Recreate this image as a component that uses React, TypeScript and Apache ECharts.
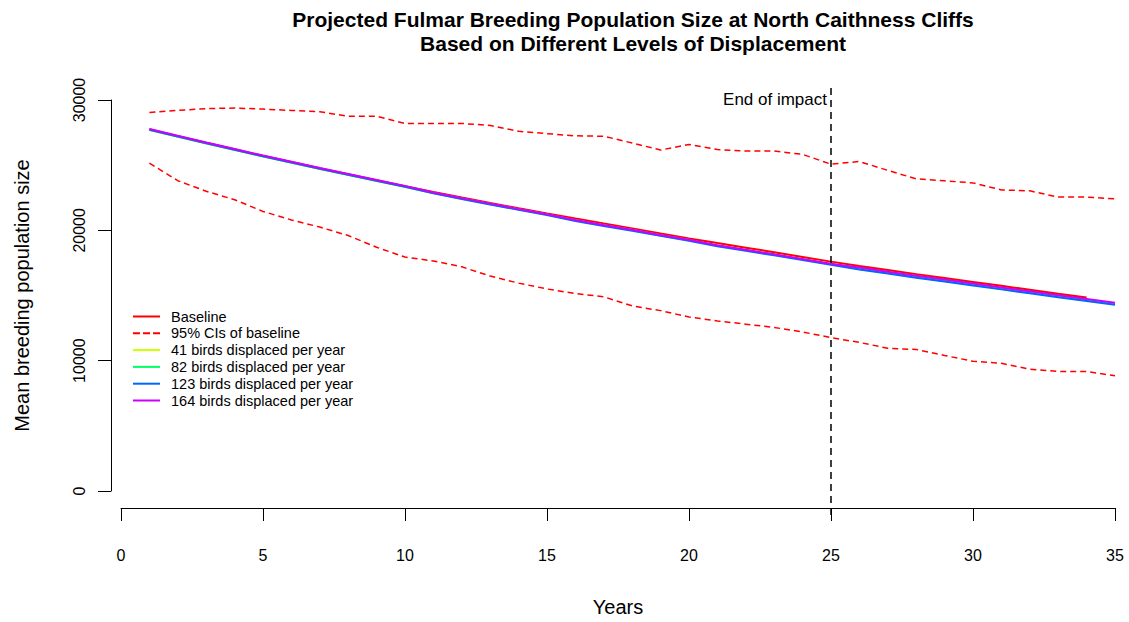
import React, { useEffect, useRef } from "react";
import * as echarts from "echarts";

const years = [1,2,3,4,5,6,7,8,9,10,11,12,13,14,15,16,17,18,19,20,21,22,23,24,25,26,27,28,29,30,31,32,33,34,35];
const baseline = [27750,27230,26720,26220,25720,25240,24760,24300,23840,23390,22950,22520,22100,21690,21290,20900,20520,20150,19760,19380,19020,18670,18320,17960,17600,17260,16950,16640,16340,16040,15740,15440,15140,14850];
const ciUpper = [29040,29200,29340,29380,29300,29200,29100,28750,28750,28200,28200,28200,28050,27600,27420,27250,27220,26700,26160,26590,26200,26080,26080,25830,25075,25280,24600,23950,23800,23640,23100,23030,22550,22550,22420];
const ciLower = [25150,23810,23000,22350,21450,20800,20250,19600,18700,17950,17650,17200,16490,15950,15500,15150,14900,14200,13840,13350,13050,12800,12550,12200,11770,11400,10950,10860,10400,9950,9800,9350,9170,9170,8840];
const disp41 = [27690,27170,26660,26160,25660,25180,24700,24240,23780,23330,22860,22430,22010,21600,21200,20770,20390,20020,19630,19250,18840,18490,18140,17780,17420,17060,16750,16440,16140,15840,15540,15240,14940,14650,14360];
const disp82 = [27720,27200,26690,26190,25690,25210,24730,24270,23810,23360,22870,22440,22020,21610,21210,20750,20370,20000,19610,19230,18820,18470,18120,17760,17400,17040,16730,16420,16120,15820,15520,15220,14920,14630,14340];
const disp123 = [27710,27190,26680,26180,25680,25200,24720,24260,23800,23350,22840,22410,21990,21580,21180,20720,20340,19970,19580,19200,18780,18430,18080,17720,17360,16990,16680,16370,16070,15770,15470,15170,14870,14580,14290];
const disp164 = [27770,27250,26740,26240,25740,25260,24780,24320,23860,23410,22900,22470,22050,21640,21240,20790,20410,20040,19650,19270,18860,18510,18160,17800,17440,17140,16830,16520,16220,15920,15620,15320,15020,14730,14440];
const endOfImpact = 25;
const xTicks = [0, 5, 10, 15, 20, 25, 30, 35];
const yTicks = [0, 10000, 20000, 30000];

const names = {
  base: "Baseline",
  ci: "95% CIs of baseline",
  d41: "41 birds displaced per year",
  d82: "82 birds displaced per year",
  d123: "123 birds displaced per year",
  d164: "164 birds displaced per year",
};

const pair = (vals: number[]) => vals.map((v, i) => [years[i], v]);
const FONT = "Liberation Sans, Arial, sans-serif";
const SOLID_ICON = "path://M0,0H27V2H0Z";
const DASH_ICON = "path://M0,0H7V2H0Z M10,0H17V2H10Z M20,0H27V2H20Z";

export default function App() {
  const ref = useRef<HTMLDivElement>(null);
  useEffect(() => {
    document.body.style.margin = "0";
    const chart = echarts.init(ref.current!, null, { renderer: "svg" });
    const mk = (name: string, data: number[], color: string, dashed = false) => ({
      type: "line",
      name,
      data: pair(data),
      xAxisIndex: 0,
      yAxisIndex: 0,
      symbol: "none",
      lineStyle: { color, width: dashed ? 1.5 : 2, type: dashed ? [6, 4] : "solid" },
      itemStyle: { color },
      z: 3,
    });
    chart.setOption({
      animation: false,
      backgroundColor: "#ffffff",
      textStyle: { fontFamily: FONT },
      title: {
        text: "Projected Fulmar Breeding Population Size at North Caithness Cliffs\nBased on Different Levels of Displacement",
        left: 628,
        top: 2,
        textAlign: "center",
        textStyle: { fontFamily: FONT, fontSize: 21, fontWeight: "bold", color: "#000", lineHeight: 24 },
      },
      legend: {
        orient: "vertical",
        left: 128,
        top: 304,
        itemWidth: 27,
        itemHeight: 2,
        itemGap: 1.8,
        textStyle: { fontFamily: FONT, fontSize: 14.5, color: "#000", padding: [0, 0, 0, 6] },
        data: [
          { name: names.base, icon: SOLID_ICON },
          { name: names.ci, icon: DASH_ICON },
          { name: names.d41, icon: SOLID_ICON },
          { name: names.d82, icon: SOLID_ICON },
          { name: names.d123, icon: SOLID_ICON },
          { name: names.d164, icon: SOLID_ICON },
        ],
      },
      grid: [
        { left: 121, right: 14, top: 100, bottom: 126, containLabel: false },
        { left: 121, right: 14, top: 88, bottom: 107, containLabel: false },
      ],
      xAxis: [
        {
          type: "value",
          gridIndex: 0,
          min: 0,
          max: 35,
          interval: 5,
          offset: 17,
          axisLine: { show: true, onZero: false, lineStyle: { color: "#000", width: 1 } },
          axisTick: { show: true, length: 13, lineStyle: { color: "#000" } },
          axisLabel: { fontFamily: FONT, fontSize: 16, color: "#000", margin: 39, customValues: xTicks },
          splitLine: { show: false },
          name: "Years",
          nameLocation: "middle",
          nameGap: 89,
          nameTextStyle: { fontFamily: FONT, fontSize: 20, color: "#000" },
        },
        { type: "value", gridIndex: 1, min: 0, max: 35, show: false },
      ],
      yAxis: [
        {
          type: "value",
          gridIndex: 0,
          min: 0,
          max: 30000,
          interval: 10000,
          offset: 10,
          axisLine: { show: true, onZero: false, lineStyle: { color: "#000", width: 1 } },
          axisTick: { show: true, length: 13, lineStyle: { color: "#000" } },
          axisLabel: {
            fontFamily: FONT,
            fontSize: 16,
            color: "#000",
            rotate: 90,
            margin: 24,
            customValues: yTicks,
            formatter: (v: number) => String(v),
          },
          splitLine: { show: false },
          name: "Mean breeding population size",
          nameLocation: "middle",
          nameRotate: 90,
          nameGap: 79,
          nameTextStyle: { fontFamily: FONT, fontSize: 20, color: "#000" },
        },
        { type: "value", gridIndex: 1, min: 0, max: 1, show: false },
      ],
      series: [
        mk(names.base, baseline, "#FF0000"),
        mk(names.ci, ciUpper, "#FF0000", true),
        mk(names.ci, ciLower, "#FF0000", true),
        mk(names.d41, disp41, "#CCFF00"),
        mk(names.d82, disp82, "#00FF66"),
        mk(names.d123, disp123, "#0066FF"),
        mk(names.d164, disp164, "#CC00FF"),
        {
          type: "line",
          name: "impact",
          xAxisIndex: 1,
          yAxisIndex: 1,
          data: [],
          markLine: {
            silent: true,
            symbol: "none",
            label: { show: false },
            lineStyle: { color: "#000", width: 1.5, type: [7, 5] },
            data: [{ xAxis: endOfImpact }],
          },
        },
      ],
      graphic: [
        {
          type: "text",
          right: 1129 - 827,
          top: 91,
          style: { text: "End of impact", fontFamily: FONT, fontSize: 17, fill: "#000" },
        },
      ],
    });
    return () => chart.dispose();
  }, []);
  return <div ref={ref} style={{ width: 1129, height: 622 }} />;
}
